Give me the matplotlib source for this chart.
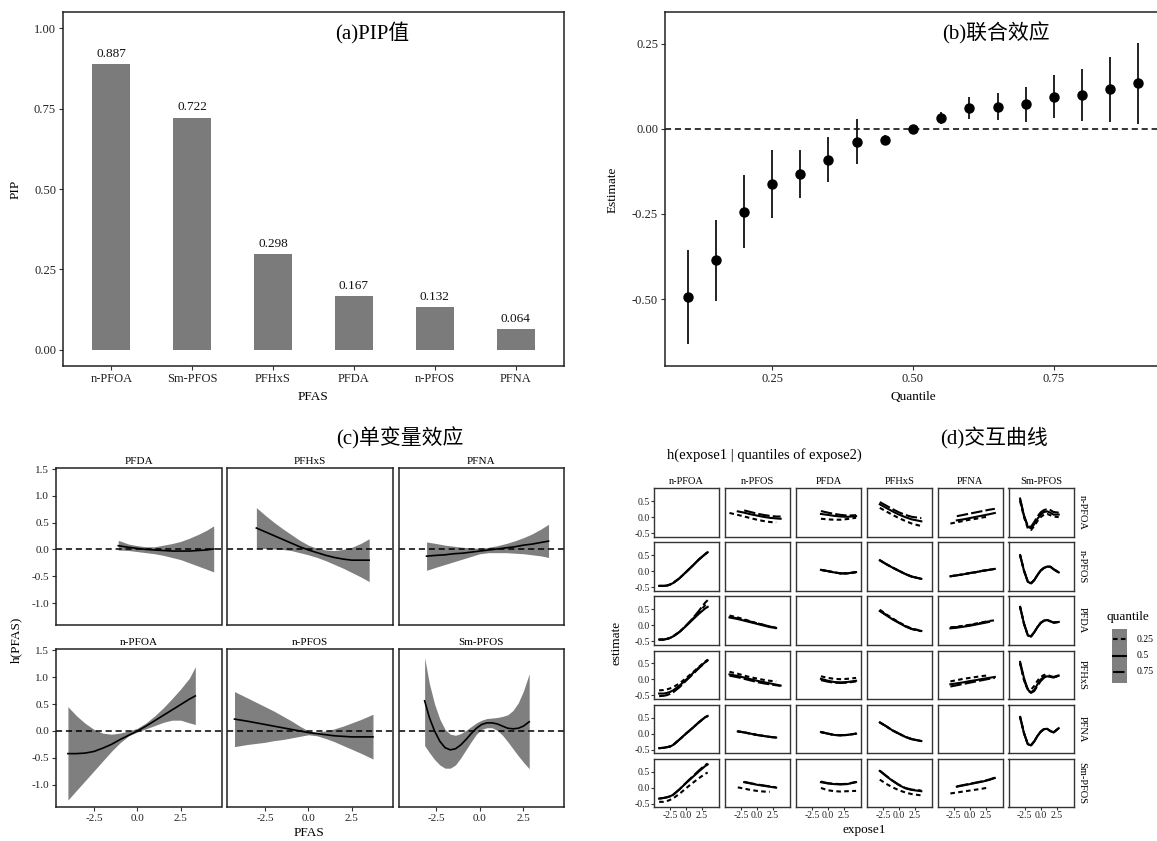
import numpy as np
import matplotlib
matplotlib.use('Agg')
import matplotlib.pyplot as plt
from matplotlib.ticker import FormatStrFormatter
from matplotlib.lines import Line2D

plt.rcParams['font.family'] = ['Liberation Serif', 'Noto Sans CJK SC']
plt.rcParams['axes.unicode_minus'] = False

nan = np.nan

# ---------------- (a) PIP values ----------------
pip_names = ['n-PFOA', 'Sm-PFOS', 'PFHxS', 'PFDA', 'n-PFOS', 'PFNA']
pip_values = [0.887, 0.722, 0.298, 0.167, 0.132, 0.064]

# ---------------- (b) overall effect ----------------
q_levels = [0.10, 0.15, 0.20, 0.25, 0.30, 0.35, 0.40, 0.45, 0.50,
            0.55, 0.60, 0.65, 0.70, 0.75, 0.80, 0.85, 0.90]
q_est = [-0.494, -0.386, -0.243, -0.162, -0.131, -0.091, -0.037, -0.033, 0.0,
         0.032, 0.062, 0.066, 0.072, 0.095, 0.101, 0.118, 0.135]
q_low = [-0.632, -0.507, -0.350, -0.262, -0.203, -0.157, -0.102, -0.048, 0.0,
         0.014, 0.028, 0.025, 0.020, 0.031, 0.023, 0.021, 0.016]
q_high = [-0.355, -0.267, -0.136, -0.063, -0.061, -0.025, 0.029, -0.018, 0.0,
          0.049, 0.095, 0.106, 0.123, 0.158, 0.177, 0.213, 0.254]

# ---------------- (c) univariate effects ----------------
uni_PFDA_x = [-1.1, -0.5, 0.0, 0.5, 1.0, 1.5, 2.0, 2.5, 3.0, 3.5, 4.0, 4.4]
uni_PFDA_mean = [0.07, 0.04, 0.02, 0.0, -0.01, -0.02, -0.03, -0.03, -0.03, -0.02, -0.01, 0.01]
uni_PFDA_high = [0.17, 0.10, 0.07, 0.05, 0.05, 0.08, 0.11, 0.15, 0.21, 0.28, 0.36, 0.44]
uni_PFDA_low = [-0.01, -0.02, -0.04, -0.06, -0.08, -0.11, -0.15, -0.19, -0.25, -0.31, -0.37, -0.42]

uni_PFHxS_x = [-3.0, -2.5, -2.0, -1.5, -1.0, -0.5, 0.0, 0.5, 1.0, 1.5, 2.0, 2.5, 3.0, 3.5]
uni_PFHxS_mean = [0.40, 0.33, 0.26, 0.19, 0.12, 0.05, -0.01, -0.06, -0.11, -0.15, -0.18, -0.20, -0.20, -0.20]
uni_PFHxS_high = [0.78, 0.64, 0.51, 0.39, 0.28, 0.17, 0.08, 0.02, -0.01, -0.02, 0.0, 0.04, 0.11, 0.20]
uni_PFHxS_low = [0.02, 0.02, 0.01, 0.0, -0.02, -0.06, -0.10, -0.15, -0.21, -0.28, -0.35, -0.43, -0.51, -0.60]

uni_PFNA_x = [-3.06, -2.5, -2.0, -1.5, -1.0, -0.5, 0.0, 0.5, 1.0, 1.5, 2.0, 2.5, 3.0, 3.5, 3.94]
uni_PFNA_mean = [-0.125, -0.11, -0.10, -0.08, -0.07, -0.05, -0.03, -0.01, 0.01, 0.03, 0.05, 0.08, 0.10, 0.13, 0.155]
uni_PFNA_high = [0.14, 0.11, 0.08, 0.06, 0.04, 0.03, 0.02, 0.04, 0.07, 0.11, 0.16, 0.22, 0.29, 0.38, 0.47]
uni_PFNA_low = [-0.39, -0.33, -0.28, -0.23, -0.18, -0.13, -0.08, -0.06, -0.06, -0.06, -0.07, -0.08, -0.10, -0.12, -0.15]

uni_nPFOA_x = [-4.0, -3.5, -3.0, -2.5, -2.0, -1.5, -1.0, -0.5, 0.0, 0.5, 1.0, 1.5, 2.0, 2.5, 3.0, 3.34]
uni_nPFOA_mean = [-0.42, -0.42, -0.41, -0.38, -0.32, -0.25, -0.16, -0.08, 0.0, 0.09, 0.19, 0.29, 0.39, 0.49, 0.59, 0.65]
uni_nPFOA_high = [0.45, 0.28, 0.14, 0.03, -0.04, -0.06, -0.04, 0.0, 0.05, 0.15, 0.28, 0.43, 0.60, 0.78, 0.98, 1.19]
uni_nPFOA_low = [-1.28, -1.10, -0.92, -0.74, -0.56, -0.38, -0.22, -0.09, -0.02, 0.04, 0.10, 0.16, 0.20, 0.20, 0.15, 0.12]

uni_nPFOS_x = [-4.26, -3.5, -3.0, -2.5, -2.0, -1.5, -1.0, -0.5, 0.0, 0.5, 1.0, 1.5, 2.0, 2.5, 3.0, 3.72]
uni_nPFOS_mean = [0.22, 0.18, 0.15, 0.12, 0.09, 0.06, 0.03, 0.0, -0.03, -0.05, -0.07, -0.09, -0.10, -0.11, -0.11, -0.11]
uni_nPFOS_high = [0.73, 0.61, 0.53, 0.45, 0.37, 0.28, 0.19, 0.09, 0.0, -0.02, 0.0, 0.04, 0.09, 0.15, 0.21, 0.31]
uni_nPFOS_low = [-0.29, -0.25, -0.23, -0.21, -0.18, -0.16, -0.13, -0.10, -0.07, -0.09, -0.14, -0.20, -0.27, -0.34, -0.41, -0.52]

uni_SmPFOS_x = [-3.17, -2.9, -2.6, -2.3, -2.0, -1.7, -1.4, -1.1, -0.8, -0.5, -0.2, 0.1, 0.4, 0.7,
                1.0, 1.3, 1.6, 1.9, 2.2, 2.5, 2.83]
uni_SmPFOS_mean = [0.56, 0.25, 0.0, -0.19, -0.31, -0.35, -0.33, -0.26, -0.16, -0.05, 0.05, 0.12, 0.15, 0.15,
                   0.13, 0.09, 0.05, 0.04, 0.05, 0.09, 0.17]
uni_SmPFOS_high = [1.36, 0.88, 0.50, 0.22, 0.03, -0.06, -0.08, -0.05, 0.01, 0.08, 0.15, 0.20, 0.23, 0.24,
                   0.25, 0.27, 0.30, 0.38, 0.52, 0.74, 1.06]
uni_SmPFOS_low = [-0.27, -0.40, -0.53, -0.63, -0.69, -0.69, -0.63, -0.50, -0.35, -0.20, -0.06, 0.03, 0.06, 0.06,
                  0.01, -0.08, -0.20, -0.33, -0.46, -0.58, -0.70]

# ---------------- (d) bivariate interaction curves ----------------
expo_names = ['n-PFOA', 'n-PFOS', 'PFDA', 'PFHxS', 'PFNA', 'Sm-PFOS']
quantile_labels = ['0.25', '0.5', '0.75']

gx_nPFOA = [-4.2, -3.5, -3.0, -2.5, -2.0, -1.0, 0.0, 1.0, 2.0, 3.0, 3.4]
gx_nPFOS = [-4.3, -3.0, -2.0, -1.0, 0.0, 1.0, 2.0, 3.0, 3.7]
gx_PFDA = [-1.1, 0.0, 1.0, 2.0, 3.0, 4.4]
gx_PFHxS = [-3.0, -2.0, -1.0, 0.0, 1.0, 2.0, 3.5]
gx_PFNA = [-3.0, -2.0, -1.0, 0.0, 1.0, 2.0, 3.0, 3.9]
gx_SmPFOS = [-3.2, -2.6, -2.0, -1.5, -1.0, -0.5, 0.0, 0.5, 1.0, 1.5, 2.0, 2.8]

# cells named d_<expose2>_<expose1> = (q0.25, q0.5, q0.75)
d_nPFOA_nPFOS = ([0.13, 0.07, 0.02, -0.03, -0.08, -0.12, -0.15, -0.17, nan],
                 [nan, 0.18, 0.14, 0.09, 0.05, 0.01, -0.02, -0.04, -0.05],
                 [nan, nan, 0.21, 0.16, 0.11, 0.07, 0.04, 0.02, 0.02])
d_nPFOA_PFDA = ([-0.05, -0.07, -0.08, -0.08, -0.06, -0.02],
                [0.10, 0.07, 0.04, 0.02, 0.01, 0.03],
                [0.19, 0.14, 0.10, 0.07, 0.05, 0.06])
d_nPFOA_PFHxS = ([0.29, 0.18, 0.07, -0.03, -0.12, -0.20, -0.28],
                 [0.40, 0.29, 0.18, 0.08, 0.0, -0.07, -0.13],
                 [0.47, 0.36, 0.25, 0.15, 0.07, 0.01, -0.03])
d_nPFOA_PFNA = ([-0.20, -0.16, -0.12, -0.08, -0.05, -0.01, 0.02, nan],
                [nan, -0.10, -0.07, -0.03, 0.01, 0.05, 0.09, 0.13],
                [nan, 0.03, 0.07, 0.11, 0.15, 0.19, 0.23, 0.26])
d_nPFOA_SmPFOS = ([0.50, 0.0, -0.35, -0.40, -0.28, -0.12, 0.0, 0.08, 0.10, 0.06, 0.02, 0.0],
                  [0.58, 0.05, -0.30, -0.35, -0.22, -0.05, 0.08, 0.16, 0.18, 0.14, 0.08, 0.08],
                  [0.55, 0.05, -0.28, -0.30, -0.15, 0.02, 0.15, 0.22, 0.25, 0.22, 0.16, 0.14])

d_nPFOS_nPFOA = ([-0.46, -0.46, -0.45, -0.42, -0.37, -0.22, -0.03, 0.16, 0.36, 0.53, 0.59],) * 3
d_nPFOS_PFDA = ([0.04, 0.0, -0.04, -0.07, -0.07, -0.03],) * 3
d_nPFOS_PFHxS = ([0.34, 0.22, 0.11, 0.01, -0.09, -0.17, -0.24],) * 3
d_nPFOS_PFNA = ([-0.16, -0.13, -0.10, -0.06, -0.03, 0.01, 0.04, 0.07],) * 3
d_nPFOS_SmPFOS = ([0.50, 0.02, -0.33, -0.38, -0.28, -0.12, 0.02, 0.10, 0.14, 0.14, 0.06, -0.04],) * 3

d_PFDA_nPFOA = ([-0.45, -0.45, -0.43, -0.40, -0.35, -0.21, -0.02, 0.18, 0.40, 0.62, 0.68],
                [-0.45, -0.45, -0.43, -0.40, -0.35, -0.21, -0.03, 0.16, 0.35, 0.52, 0.57],
                [-0.45, -0.45, -0.43, -0.40, -0.35, -0.21, -0.02, 0.20, 0.44, 0.70, 0.78])
d_PFDA_nPFOS = ([0.30, 0.24, 0.18, 0.12, 0.06, 0.01, -0.04, -0.10, nan],
                [0.24, 0.19, 0.14, 0.09, 0.04, -0.01, -0.06, -0.09, nan],
                [0.26, 0.21, 0.16, 0.11, 0.06, 0.01, -0.04, -0.08, nan])
d_PFDA_PFHxS = ([0.48, 0.34, 0.21, 0.09, -0.02, -0.11, -0.17],
                [0.44, 0.31, 0.18, 0.07, -0.04, -0.12, -0.18],
                [0.46, 0.32, 0.19, 0.08, -0.03, -0.12, -0.19])
d_PFDA_PFNA = ([-0.07, -0.05, -0.02, 0.01, 0.05, 0.09, 0.13, 0.15],
               [-0.10, -0.08, -0.05, -0.02, 0.02, 0.06, 0.10, nan],
               [-0.08, -0.06, -0.03, 0.0, 0.04, 0.08, 0.12, nan])
d_PFDA_SmPFOS = ([0.57, 0.05, -0.32, -0.35, -0.22, -0.06, 0.07, 0.14, 0.16, 0.12, 0.08, 0.10],) * 3

d_PFHxS_nPFOA = ([-0.34, -0.33, -0.31, -0.28, -0.24, -0.12, 0.04, 0.21, 0.39, 0.56, 0.62],
                 [-0.44, -0.44, -0.42, -0.39, -0.34, -0.19, -0.01, 0.18, 0.37, 0.54, 0.60],
                 [-0.52, -0.51, -0.49, -0.45, -0.40, -0.24, -0.04, 0.15, 0.35, 0.53, 0.60])
d_PFHxS_nPFOS = ([0.24, 0.18, 0.12, 0.07, 0.03, -0.01, -0.04, -0.06, nan],
                 [0.16, 0.11, 0.06, 0.01, -0.04, -0.08, -0.12, -0.16, -0.19],
                 [0.12, 0.07, 0.02, -0.03, -0.08, -0.12, -0.15, -0.18, -0.20])
d_PFHxS_PFDA = ([0.10, 0.05, 0.02, 0.01, 0.02, 0.05],
                [0.02, -0.04, -0.08, -0.09, -0.08, -0.04],
                [-0.02, -0.07, -0.10, -0.11, -0.10, -0.06])
d_PFHxS_PFNA = ([-0.06, -0.02, 0.02, 0.05, 0.08, 0.11, 0.13, nan],
                [-0.15, -0.12, -0.09, -0.05, -0.02, 0.02, 0.05, 0.08],
                [-0.22, -0.18, -0.14, -0.10, -0.06, -0.02, 0.02, 0.05])
d_PFHxS_SmPFOS = ([0.52, -0.02, -0.30, -0.32, -0.20, -0.04, 0.08, 0.14, 0.16, 0.10, 0.06, 0.12],
                  [0.55, 0.05, -0.32, -0.40, -0.33, -0.15, 0.0, 0.08, 0.10, 0.08, 0.06, 0.12],
                  [0.50, 0.0, -0.34, -0.42, -0.36, -0.20, -0.05, 0.05, 0.12, 0.10, 0.08, 0.13])

d_PFNA_nPFOA = ([-0.45, -0.44, -0.42, -0.40, -0.35, -0.18, 0.0, 0.17, 0.35, 0.51, 0.55],) * 3
d_PFNA_nPFOS = ([nan, 0.07, 0.04, 0.0, -0.04, -0.07, -0.10, -0.12, nan],) * 3
d_PFNA_PFDA = ([0.05, 0.0, -0.04, -0.05, -0.04, 0.0],) * 3
d_PFNA_PFHxS = ([0.35, 0.23, 0.10, 0.0, -0.10, -0.17, -0.23],) * 3
d_PFNA_SmPFOS = ([0.52, 0.02, -0.33, -0.36, -0.24, -0.07, 0.06, 0.14, 0.15, 0.08, 0.04, 0.17],) * 3

d_SmPFOS_nPFOA = ([-0.44, -0.44, -0.42, -0.38, -0.33, -0.19, -0.02, 0.14, 0.29, 0.43, 0.47],
                  [-0.34, -0.32, -0.30, -0.27, -0.22, -0.05, 0.14, 0.32, 0.50, 0.67, 0.72],
                  [-0.34, -0.32, -0.30, -0.27, -0.22, -0.05, 0.15, 0.34, 0.53, 0.70, 0.75])
d_SmPFOS_nPFOS = ([nan, 0.01, -0.03, -0.07, -0.10, -0.12, -0.13, nan, nan],
                  [nan, nan, 0.17, 0.13, 0.09, 0.06, 0.03, 0.0, nan],
                  [nan, nan, 0.18, 0.14, 0.10, 0.07, 0.04, 0.01, nan])
d_SmPFOS_PFDA = ([-0.01, -0.08, -0.11, -0.12, -0.11, -0.10],
                 [0.17, 0.13, 0.11, 0.10, 0.11, 0.17],
                 [0.19, 0.14, 0.12, 0.11, 0.12, 0.18])
d_SmPFOS_PFHxS = ([0.25, 0.12, 0.01, -0.08, -0.15, -0.20, -0.24],
                  [0.52, 0.36, 0.21, 0.08, -0.02, -0.07, -0.11],
                  [0.53, 0.37, 0.22, 0.09, -0.01, -0.06, -0.09])
d_SmPFOS_PFNA = ([-0.18, -0.15, -0.12, -0.09, -0.06, -0.03, 0.01, nan],
                 [nan, 0.03, 0.07, 0.11, 0.15, 0.19, 0.24, 0.30],
                 [nan, 0.04, 0.08, 0.12, 0.16, 0.20, 0.25, 0.31])

# ---------------- figure helpers ----------------
W, H = 1157, 841
fig = plt.figure(figsize=(W / 100, H / 100), dpi=100)


def ax_px(l, t, r, b):
    return fig.add_axes([l / W, 1 - b / H, (r - l) / W, (b - t) / H])


def txt(x, y, s, **kw):
    kw.setdefault('ha', 'center')
    kw.setdefault('va', 'center')
    fig.text(x / W, 1 - y / H, s, **kw)


def style(ax, lw=1.1, color='#222222', labsize=9, pad=2):
    for sp in ax.spines.values():
        sp.set_linewidth(lw)
        sp.set_color(color)
    ax.tick_params(direction='out', length=3, width=0.8, color='#333333',
                   labelsize=labsize, pad=pad, labelcolor='#222222')


GRAY = '#7f7f7f'

# ---------------- (a) ----------------
axa = ax_px(63, 12, 564, 366)
xa = np.arange(len(pip_names))
axa.bar(xa, pip_values, width=0.47, color='#7b7b7b', edgecolor='none')
for xi, v in zip(xa, pip_values):
    axa.annotate(f'{v:.3f}', (xi, v), xytext=(0, 3), textcoords='offset points',
                 ha='center', va='bottom', fontsize=9.5, color='#111111')
axa.set_xlim(-0.6, 5.6)
axa.set_ylim(-0.05, 1.05)
axa.set_xticks(xa)
axa.set_xticklabels(pip_names)
axa.set_yticks([0, 0.25, 0.5, 0.75, 1.0])
axa.yaxis.set_major_formatter(FormatStrFormatter('%.2f'))
style(axa)
txt(372, 33, '(a)PIP值', fontsize=15)
txt(16, 189, 'PIP', fontsize=9.5, rotation=90)
txt(313, 397, 'PFAS', fontsize=9.5)

# ---------------- (b) ----------------
axb = ax_px(665, 12, 1161, 366)
axb.axhline(0, color='black', lw=1.1, ls=(0, (4, 2.5)), zorder=1)
axb.vlines(q_levels, q_low, q_high, color='#111111', lw=1.3, zorder=2)
axb.plot(q_levels, q_est, 'o', color='black', ms=6.5, zorder=3)
axb.set_xlim(0.06, 0.94)
axb.set_ylim(-0.697, 0.344)
axb.set_xticks([0.25, 0.5, 0.75])
axb.set_yticks([-0.5, -0.25, 0.0, 0.25])
axb.xaxis.set_major_formatter(FormatStrFormatter('%.2f'))
axb.yaxis.set_major_formatter(FormatStrFormatter('%.2f'))
style(axb)
txt(996, 33, '(b)联合效应', fontsize=15)
txt(613, 190, 'Estimate', fontsize=9.5, rotation=90)
txt(913, 397, 'Quantile', fontsize=9.5)

# ---------------- (c) ----------------
uni_order = [('PFDA', uni_PFDA_x, uni_PFDA_mean, uni_PFDA_low, uni_PFDA_high),
             ('PFHxS', uni_PFHxS_x, uni_PFHxS_mean, uni_PFHxS_low, uni_PFHxS_high),
             ('PFNA', uni_PFNA_x, uni_PFNA_mean, uni_PFNA_low, uni_PFNA_high),
             ('n-PFOA', uni_nPFOA_x, uni_nPFOA_mean, uni_nPFOA_low, uni_nPFOA_high),
             ('n-PFOS', uni_nPFOS_x, uni_nPFOS_mean, uni_nPFOS_low, uni_nPFOS_high),
             ('Sm-PFOS', uni_SmPFOS_x, uni_SmPFOS_mean, uni_SmPFOS_low, uni_SmPFOS_high)]
c_cols = [(56.3, 221.5), (227.4, 392.6), (398.5, 564.4)]
c_rows = [(468, 625), (649, 807)]
for i, (name, ux, um, ul, uh) in enumerate(uni_order):
    r, c = divmod(i, 3)
    l, rr = c_cols[c]
    t, b = c_rows[r]
    ax = ax_px(l, t, rr, b)
    ax.fill_between(ux, ul, uh, color=GRAY, lw=0, zorder=1)
    ax.axhline(0, color='black', lw=1.1, ls=(0, (4, 2.5)), zorder=2)
    ax.plot(ux, um, color='black', lw=1.2, zorder=3)
    ax.set_xlim(-4.67, 4.85)
    ax.set_ylim(-1.41, 1.52)
    ax.set_xticks([-2.5, 0.0, 2.5])
    ax.set_yticks([-1.0, -0.5, 0.0, 0.5, 1.0, 1.5])
    ax.xaxis.set_major_formatter(FormatStrFormatter('%.1f'))
    ax.yaxis.set_major_formatter(FormatStrFormatter('%.1f'))
    style(ax, labsize=8)
    if r == 0:
        ax.tick_params(labelbottom=False, bottom=False)
    if c > 0:
        ax.tick_params(labelleft=False, left=False)
    ax.set_title(name, fontsize=8, pad=3)
txt(400, 438, '(c)单变量效应', fontsize=15)
txt(16, 640, 'h(PFAS)', fontsize=9.5, rotation=90)
txt(309, 833, 'PFAS', fontsize=9.5)

# ---------------- (d) ----------------
grids = {'n-PFOA': gx_nPFOA, 'n-PFOS': gx_nPFOS, 'PFDA': gx_PFDA,
         'PFHxS': gx_PFHxS, 'PFNA': gx_PFNA, 'Sm-PFOS': gx_SmPFOS}
keys = {'n-PFOA': 'nPFOA', 'n-PFOS': 'nPFOS', 'PFDA': 'PFDA',
        'PFHxS': 'PFHxS', 'PFNA': 'PFNA', 'Sm-PFOS': 'SmPFOS'}
cells = {name: val for name, val in globals().items() if name.startswith('d_')}
q_styles = [dict(ls=(0, (2.2, 1.6))), dict(ls='-'), dict(ls=(0, (5.5, 1.5)))]

d_cols = [(654, 719), (725, 790), (796, 861), (867, 932), (937.5, 1003), (1008.5, 1074)]
d_rows = [(488.3, 536.7), (542.3, 590.7), (596.3, 644.7), (650.7, 699),
          (704.7, 753.3), (758.7, 807.3)]
for ri, e2 in enumerate(expo_names):
    for ci, e1 in enumerate(expo_names):
        l, r = d_cols[ci]
        t, b = d_rows[ri]
        ax = ax_px(l, t, r, b)
        key = 'd_' + keys[e2] + '_' + keys[e1]
        if key in cells:
            gx = grids[e1]
            for qv, st in zip(cells[key], q_styles):
                ax.plot(gx, qv, color='black', lw=1.5, **st)
        ax.set_xlim(-5.0, 5.17)
        ax.set_ylim(-0.61, 0.90)
        ax.set_xticks([-2.5, 0.0, 2.5])
        ax.set_yticks([-0.5, 0.0, 0.5])
        ax.xaxis.set_major_formatter(FormatStrFormatter('%.1f'))
        ax.yaxis.set_major_formatter(FormatStrFormatter('%.1f'))
        style(ax, lw=1.0, color='#333333', labsize=7, pad=1)
        ax.tick_params(length=2)
        if ri < 5:
            ax.tick_params(labelbottom=False, bottom=False)
        if ci > 0:
            ax.tick_params(labelleft=False, left=False)
        if ri == 0:
            ax.set_title(e1, fontsize=7.5, pad=3)
        if ci == 5:
            ax.text(1.12, 0.5, e2, transform=ax.transAxes, rotation=270,
                    ha='center', va='center', fontsize=7.5)

txt(994, 438, '(d)交互曲线', fontsize=15)
txt(667, 455, 'h(expose1 | quantiles of expose2)', fontsize=10.5, ha='left')
txt(616, 643, 'estimate', fontsize=9.5, rotation=90)
txt(864, 830, 'expose1', fontsize=9.5)

# legend
txt(1128, 617, 'quantile', fontsize=9.5)
key_top, key_bot = 629, 683
axl = ax_px(1112, key_top, 1127, key_bot)
axl.set_facecolor(GRAY)
axl.set_xticks([])
axl.set_yticks([])
for sp in axl.spines.values():
    sp.set_visible(False)
for ypx, st, lab in zip([639, 656, 672], q_styles, quantile_labels):
    yy = (key_bot - ypx) / (key_bot - key_top)
    axl.add_line(Line2D([0.08, 0.92], [yy, yy], color='black', lw=1.5,
                        transform=axl.transAxes, **st))
    txt(1137, ypx, lab, fontsize=7, ha='left')

fig.savefig('out.png', dpi=100)
